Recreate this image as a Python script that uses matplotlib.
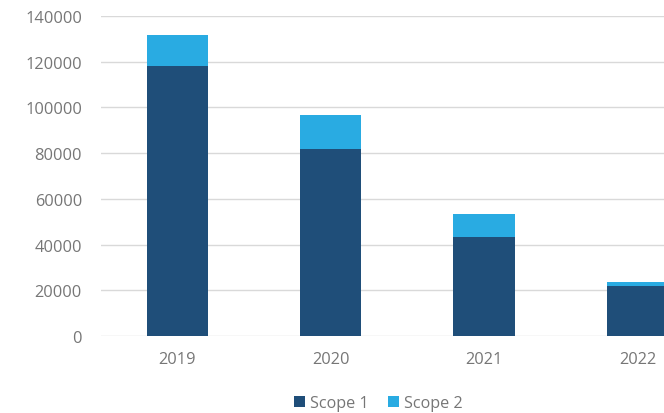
import numpy as np
import matplotlib.pyplot as plt

plt.rcParams['font.family'] = ['Open Sans', 'DejaVu Sans']

years = ['2019', '2020', '2021', '2022']
scope1 = [118200, 81800, 43200, 22000]
scope2 = [13600, 14800, 10200, 1700]

dark = '#1F4E79'
light = '#29ABE2'
grey = '#767676'

fig = plt.figure(figsize=(6.64, 4.14), dpi=100)
# axes runs past the right edge, as in the cropped original
ax = fig.add_axes([0.1517, 0.186, 0.9237, 0.773])

x = np.arange(len(years))
ax.bar(x, scope1, width=0.4, color=dark, label='Scope 1', zorder=3)
ax.bar(x, scope2, width=0.4, bottom=scope1, color=light, label='Scope 2', zorder=3)

ax.set_xlim(-0.5, 3.5)
ax.set_ylim(0, 140000)
ax.set_yticks(np.arange(0, 140001, 20000))
ax.set_xticks(x)
ax.set_xticklabels(years)
ax.yaxis.grid(True, color='#D9D9D9', linewidth=1, zorder=0)
for s in ax.spines.values():
    s.set_visible(False)
ax.tick_params(length=0, colors=grey, labelsize=11.8)
ax.tick_params(axis='y', pad=13.5)
ax.tick_params(axis='x', pad=10.5)

fig.legend(loc='center', bbox_to_anchor=(378 / 664, 10 / 414), ncol=2, frameon=False,
           fontsize=11.6, labelcolor=grey, handlelength=0.7, handleheight=0.7,
           handletextpad=0.3, columnspacing=1.2)

fig.savefig('out.png', dpi=100)
